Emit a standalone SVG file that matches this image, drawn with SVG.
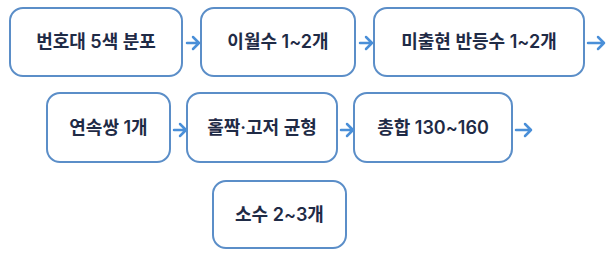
<svg xmlns="http://www.w3.org/2000/svg" width="615" height="257" viewBox="0 0 615 257">
<style>
.box{fill:#ffffff;stroke:#5b8ec8;stroke-width:2}
.lbl{font-family:Inter,"Noto Sans CJK KR","Noto Sans",sans-serif;font-size:18px;font-weight:600;fill:#1f2b46;text-anchor:middle}
.arr{fill:none;stroke:#4a8fd8;stroke-width:2.5;stroke-linecap:round;stroke-linejoin:round}
</style>
<rect width="615" height="257" fill="#ffffff"/>
<g id="n1"><rect class="box" x="10" y="8" width="172" height="68" rx="13"/><text class="lbl" x="96" y="48">번호대 5색 분포</text></g>
<g id="n2"><rect class="box" x="201" y="8" width="154" height="68" rx="13"/><text class="lbl" x="278" y="48">이월수 1~2개</text></g>
<g id="n3"><rect class="box" x="374" y="8" width="210" height="68" rx="13"/><text class="lbl" x="479" y="48">미출현 반등수 1~2개</text></g>
<g id="n4"><rect class="box" x="47" y="93" width="123" height="69" rx="13"/><text class="lbl" x="108.5" y="134">연속쌍 1개</text></g>
<g id="n5"><rect class="box" x="187" y="93" width="150" height="69" rx="13"/><text class="lbl" x="262" y="134">홀짝·고저 균형</text></g>
<g id="n6"><rect class="box" x="354" y="93" width="158" height="69" rx="13"/><text class="lbl" x="433" y="134">총합 130~160</text></g>
<g id="n7"><rect class="box" x="213" y="181" width="133" height="67" rx="13"/><text class="lbl" x="279.5" y="221">소수 2~3개</text></g>
<g id="connectors">
<path class="arr" d="M187 43H199M193 37L199 43L193 49"/>
<path class="arr" d="M360 43H372M366 37L372 43L366 49"/>
<path class="arr" d="M588 43H604M598 37L604 43L598 49"/>
<path class="arr" d="M174 130H186M180 124L186 130L180 136"/>
<path class="arr" d="M341 130H353M347 124L353 130L347 136"/>
<path class="arr" d="M516 130H531M525 124L531 130L525 136"/>
</g>
</svg>
